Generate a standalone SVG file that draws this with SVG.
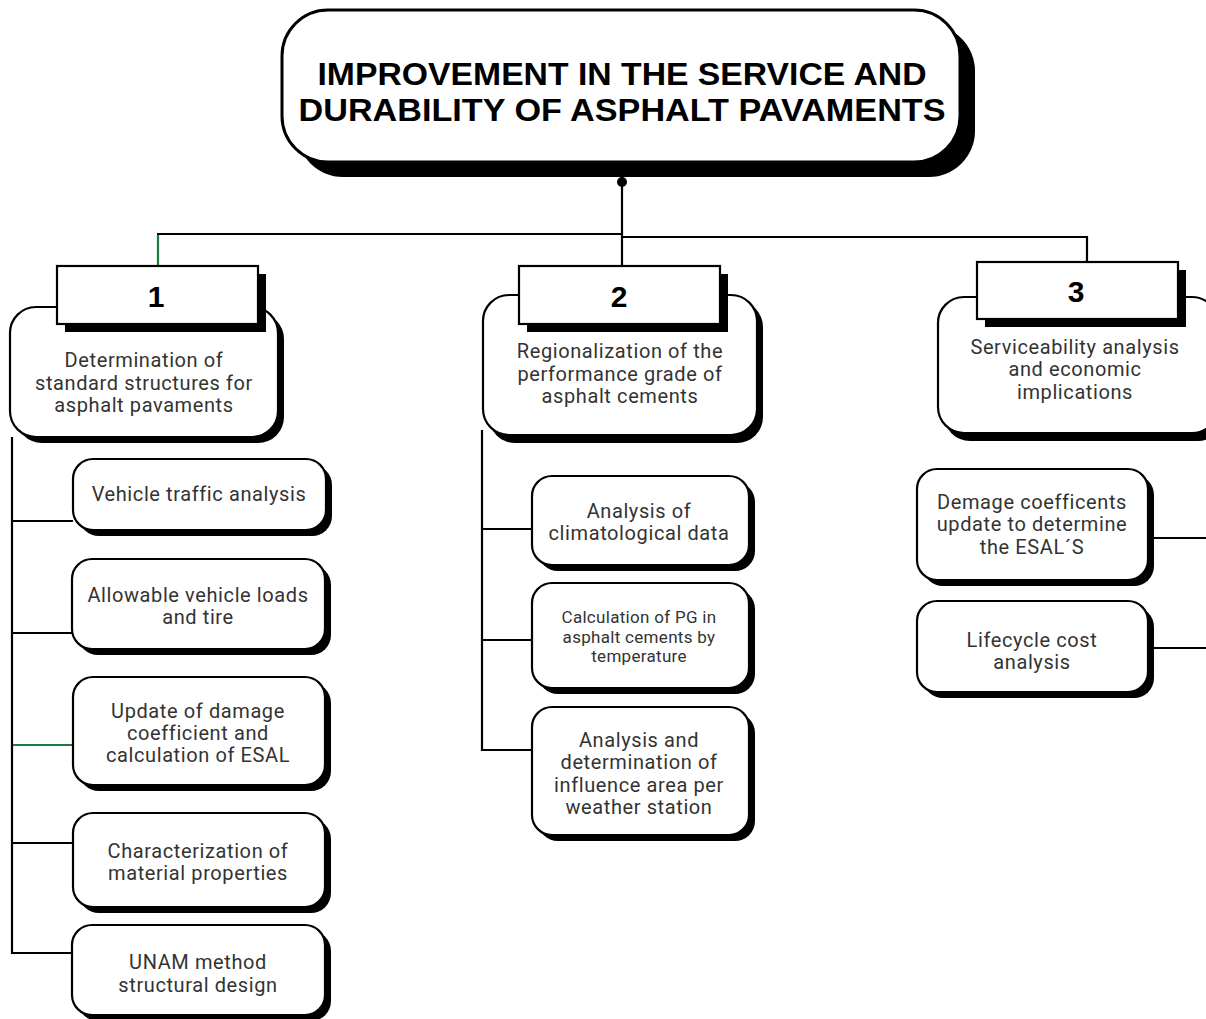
<svg xmlns="http://www.w3.org/2000/svg" width="1206" height="1019" viewBox="0 0 1206 1019">
<style>
.bg{fill:#ffffff}
.sh{fill:#000000}
.box{fill:#ffffff;stroke:#000000;stroke-width:2.2}
.main{fill:#ffffff;stroke:#000000;stroke-width:3}
.ln{stroke:#000000;stroke-width:2.2;fill:none}
.gr{stroke:#1b7a3c;stroke-width:2.2;fill:none}
.t{font-family:Roboto,"Liberation Sans",sans-serif;font-size:20px;letter-spacing:0.6px;fill:#333333;text-anchor:middle}
.ts{font-family:Roboto,"Liberation Sans",sans-serif;font-size:17px;letter-spacing:0.3px;fill:#333333;text-anchor:middle}
.num{font-family:"Liberation Sans",Arial,sans-serif;font-size:30px;font-weight:bold;fill:#000;text-anchor:middle}
.title{font-family:"Liberation Sans",Arial,sans-serif;font-size:32px;font-weight:bold;fill:#000;text-anchor:middle}
</style>
<rect class="bg" x="0" y="0" width="1206" height="1019"/>
<g id="connectors">
  <line class="ln" x1="622" y1="176" x2="622" y2="266"/>
  <circle cx="622" cy="182" r="5" fill="#000"/>
  <line class="ln" x1="157" y1="234" x2="622" y2="234"/>
  <line class="gr" x1="158" y1="235" x2="158" y2="266"/>
  <polyline class="ln" points="622,237 1087,237 1087,262"/>
  <polyline class="ln" points="12,437 12,953 72,953"/>
  <line class="ln" x1="12" y1="521" x2="73" y2="521"/>
  <line class="ln" x1="12" y1="633" x2="72" y2="633"/>
  <line class="gr" x1="13" y1="745" x2="73" y2="745"/>
  <line class="ln" x1="12" y1="843" x2="73" y2="843"/>
  <polyline class="ln" points="482,430 482,750 532,750"/>
  <line class="ln" x1="482" y1="529" x2="532" y2="529"/>
  <line class="ln" x1="482" y1="640" x2="532" y2="640"/>
  <line class="ln" x1="1148" y1="538" x2="1206" y2="538"/>
  <line class="ln" x1="1148" y1="648" x2="1206" y2="648"/>
</g>
<g id="main">
  <rect class="sh" x="297" y="25" width="678" height="152" rx="46"/>
  <rect class="main" x="282" y="10" width="678" height="152" rx="46"/>
  <text class="title" x="622" y="85" textLength="609" lengthAdjust="spacingAndGlyphs">IMPROVEMENT IN THE SERVICE AND</text>
  <text class="title" x="622" y="121" textLength="647" lengthAdjust="spacingAndGlyphs">DURABILITY OF ASPHALT PAVAMENTS</text>
</g>
<g id="node1">
  <rect class="sh" x="16" y="313" width="268" height="130" rx="26"/>
  <rect class="box" x="10" y="307" width="268" height="130" rx="26"/>
  <rect class="sh" x="65" y="274" width="201" height="58"/>
  <rect class="box" x="57" y="266" width="201" height="58"/>
  <text class="num" x="156" y="307">1</text>
  <text class="t" x="144" y="367">Determination of</text>
  <text class="t" x="144" y="390">standard structures for</text>
  <text class="t" x="144" y="412">asphalt pavaments</text>
</g>
<g id="node2">
  <rect class="sh" x="489" y="301" width="274" height="142" rx="26"/>
  <rect class="box" x="483" y="295" width="274" height="140" rx="26"/>
  <rect class="sh" x="527" y="274" width="201" height="58"/>
  <rect class="box" x="519" y="266" width="201" height="58"/>
  <text class="num" x="619" y="307">2</text>
  <text class="t" x="620" y="358">Regionalization of the</text>
  <text class="t" x="620" y="381">performance grade of</text>
  <text class="t" x="620" y="403">asphalt cements</text>
</g>
<g id="node3">
  <rect class="sh" x="944" y="303" width="280" height="138" rx="26"/>
  <rect class="box" x="938" y="297" width="280" height="136" rx="26"/>
  <rect class="sh" x="985" y="270" width="201" height="57"/>
  <rect class="box" x="977" y="262" width="201" height="57"/>
  <text class="num" x="1076" y="302">3</text>
  <text class="t" x="1075" y="354">Serviceability analysis</text>
  <text class="t" x="1075" y="376">and economic</text>
  <text class="t" x="1075" y="399">implications</text>
</g>
<g id="n1a">
  <rect class="sh" x="79" y="465" width="253" height="71" rx="20"/>
  <rect class="box" x="73" y="459" width="253" height="71" rx="20"/>
  <text class="t" x="199" y="501">Vehicle traffic analysis</text>
</g>
<g id="n1b">
  <rect class="sh" x="78" y="565" width="253" height="90" rx="20"/>
  <rect class="box" x="72" y="559" width="253" height="90" rx="20"/>
  <text class="t" x="198" y="602">Allowable vehicle loads</text>
  <text class="t" x="198" y="624">and tire</text>
</g>
<g id="n1c">
  <rect class="sh" x="79" y="683" width="252" height="108" rx="20"/>
  <rect class="box" x="73" y="677" width="252" height="108" rx="20"/>
  <text class="t" x="198" y="718">Update of damage</text>
  <text class="t" x="198" y="740">coefficient and</text>
  <text class="t" x="198" y="762">calculation of ESAL</text>
</g>
<g id="n1d">
  <rect class="sh" x="79" y="819" width="252" height="94" rx="20"/>
  <rect class="box" x="73" y="813" width="252" height="94" rx="20"/>
  <text class="t" x="198" y="858">Characterization of</text>
  <text class="t" x="198" y="880">material properties</text>
</g>
<g id="n1e">
  <rect class="sh" x="78" y="931" width="253" height="90" rx="20"/>
  <rect class="box" x="72" y="925" width="253" height="90" rx="20"/>
  <text class="t" x="198" y="969">UNAM method</text>
  <text class="t" x="198" y="992">structural design</text>
</g>
<g id="n2a">
  <rect class="sh" x="538" y="482" width="217" height="89" rx="20"/>
  <rect class="box" x="532" y="476" width="217" height="89" rx="20"/>
  <text class="t" x="639" y="518">Analysis of</text>
  <text class="t" x="639" y="540">climatological data</text>
</g>
<g id="n2b">
  <rect class="sh" x="538" y="589" width="217" height="105" rx="20"/>
  <rect class="box" x="532" y="583" width="217" height="105" rx="20"/>
  <text class="ts" x="639" y="623">Calculation of PG in</text>
  <text class="ts" x="639" y="643">asphalt cements by</text>
  <text class="ts" x="639" y="662">temperature</text>
</g>
<g id="n2c">
  <rect class="sh" x="538" y="713" width="217" height="128" rx="20"/>
  <rect class="box" x="532" y="707" width="217" height="128" rx="20"/>
  <text class="t" x="639" y="747">Analysis and</text>
  <text class="t" x="639" y="769">determination of</text>
  <text class="t" x="639" y="792">influence area per</text>
  <text class="t" x="639" y="814">weather station</text>
</g>
<g id="n3a">
  <rect class="sh" x="923" y="475" width="231" height="111" rx="20"/>
  <rect class="box" x="917" y="469" width="231" height="111" rx="20"/>
  <text class="t" x="1032" y="509">Demage coefficents</text>
  <text class="t" x="1032" y="531">update to determine</text>
  <text class="t" x="1032" y="554">the ESAL´S</text>
</g>
<g id="n3b">
  <rect class="sh" x="923" y="607" width="231" height="91" rx="20"/>
  <rect class="box" x="917" y="601" width="231" height="91" rx="20"/>
  <text class="t" x="1032" y="647">Lifecycle cost</text>
  <text class="t" x="1032" y="669">analysis</text>
</g>
</svg>
